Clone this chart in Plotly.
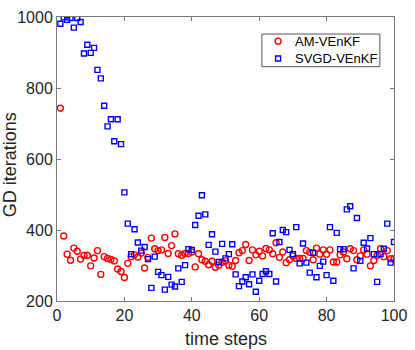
import plotly.graph_objects as go

# ── Data ──────────────────────────────────────────────────────────────────────
steps = list(range(1, 101))

am_venkf = [
    743, 383, 332, 315, 349, 340, 318, 328, 329, 299,
    321, 342, 275, 325, 320, 317, 313, 290, 283, 266,
    306, 325, 330, 324, 335, 293, 323, 377, 347, 342,
    344, 379, 334, 356, 389, 333, 329, 334, 334, 338,
    296, 333, 316, 312, 302, 312, 295, 301, 309, 313,
    301, 298, 314, 336, 342, 359, 314, 344, 330, 340,
    327, 348, 344, 333, 364, 323, 338, 308, 316, 327,
    320, 320, 320, 342, 337, 316, 349, 332, 344, 332,
    344, 310, 310, 330, 338, 319, 347, 342, 316, 327,
    344, 332, 299, 314, 329, 347, 325, 342, 319, 319,
]

svgd_venkf = [
    981, 999, 992, 997, 970, 997, 986, 897, 922, 899,
    913, 851, 827, 750, 692, 712, 650, 712, 642, 506,
    418, 332, 402, 365, 342, 352, 318, 237, 325, 282,
    273, 232, 268, 246, 241, 292, 254, 301, 346, 344,
    414, 440, 498, 444, 358, 388, 339, 310, 361, 320,
    332, 360, 275, 242, 255, 267, 247, 275, 226, 257,
    276, 284, 276, 391, 255, 366, 400, 394, 344, 332,
    408, 306, 362, 308, 280, 336, 267, 299, 311, 273,
    408, 257, 392, 346, 346, 458, 467, 292, 434, 313,
    364, 348, 377, 332, 254, 332, 347, 418, 308, 366,
]

x_ticks = [0, 20, 40, 60, 80, 100]
y_ticks = [200, 400, 600, 800, 1000]
series_names = ["AM-VEnKF", "SVGD-VEnKF"]

FONT = "Liberation Sans, Arial, Helvetica, sans-serif"
AXIS_COLOR = "#7a7a7a"
TEXT_COLOR = "#262626"
RED, BLUE = "#ff0000", "#0000ff"

fig = go.Figure()
fig.add_trace(go.Scatter(
    x=steps, y=am_venkf, mode="markers", name=series_names[0],
    marker=dict(symbol="circle-open", size=6, color=RED,
                line=dict(width=1.4, color=RED)),
))
fig.add_trace(go.Scatter(
    x=steps, y=svgd_venkf, mode="markers", name=series_names[1],
    marker=dict(symbol="square-open", size=5, color=BLUE,
                line=dict(width=1.4, color=BLUE)),
))

axis_common = dict(
    showline=True, linecolor=AXIS_COLOR, linewidth=1, mirror="ticks",
    ticks="inside", ticklen=4, tickcolor=AXIS_COLOR, tickwidth=1,
    showgrid=False, zeroline=False, automargin=False,
    tickfont=dict(family=FONT, size=16, color=TEXT_COLOR),
)

# ── MATLAB-style compact legend box (drawn by hand) ───────────────────────────
LEG_X0, LEG_X1, LEG_Y0, LEG_Y1 = 0.608, 0.958, 0.825, 0.940
SYM_X, TXT_X = 0.656, 0.699
ROW_Y = [0.915, 0.854]

shapes = [
    dict(type="rect", xref="paper", yref="paper",
         x0=LEG_X0, x1=LEG_X1, y0=LEG_Y0, y1=LEG_Y1,
         line=dict(color="#555555", width=1), fillcolor="white", layer="above"),
    dict(type="circle", xref="paper", yref="paper",
         xsizemode="pixel", ysizemode="pixel", xanchor=SYM_X, yanchor=ROW_Y[0],
         x0=-3, x1=3, y0=-3, y1=3, line=dict(color=RED, width=1.4), layer="above"),
    dict(type="rect", xref="paper", yref="paper",
         xsizemode="pixel", ysizemode="pixel", xanchor=SYM_X, yanchor=ROW_Y[1],
         x0=-2.5, x1=2.5, y0=-2.5, y1=2.5, line=dict(color=BLUE, width=1.4), layer="above"),
]

annotations = [
    dict(text=name, xref="paper", yref="paper", x=TXT_X, y=ry,
         xanchor="left", yanchor="middle", showarrow=False,
         font=dict(family=FONT, size=13, color="#000000"))
    for name, ry in zip(series_names, ROW_Y)
] + [
    dict(text="time steps", xref="paper", yref="paper", x=0.5, y=-0.092,
         xanchor="center", yanchor="top", showarrow=False,
         font=dict(family=FONT, size=18, color=TEXT_COLOR)),
    dict(text="GD iterations", xref="paper", yref="paper", x=-0.176, y=0.48,
         xanchor="left", yanchor="middle", textangle=-90, showarrow=False,
         font=dict(family=FONT, size=18, color=TEXT_COLOR)),
]

fig.update_layout(
    width=415, height=350,
    paper_bgcolor="white", plot_bgcolor="white",
    margin=dict(l=57, r=21, t=17, b=49),
    font=dict(family=FONT, color=TEXT_COLOR),
    xaxis=dict(range=[0, 100], tickvals=x_ticks, **axis_common),
    yaxis=dict(range=[200, 1000], tickvals=y_ticks, **axis_common),
    showlegend=False,
    shapes=shapes,
    annotations=annotations,
)

# drop the default 8px body margin so the figure sits at the window's corner
fig.write_html("out.html", config={"displayModeBar": False},
               post_script="document.body.style.margin='0';")
